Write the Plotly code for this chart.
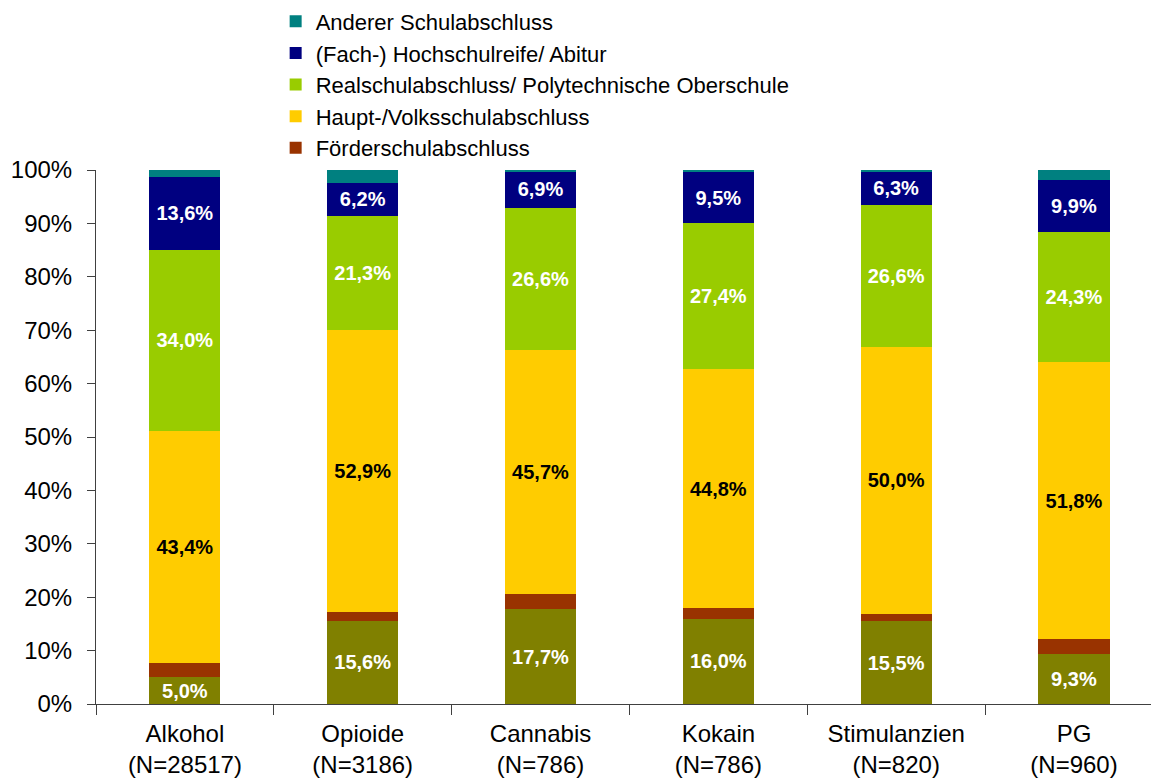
import plotly.graph_objects as go

kategorien = ['Alkohol<br>(N=28517)', 'Opioide<br>(N=3186)', 'Cannabis<br>(N=786)',
              'Kokain<br>(N=786)', 'Stimulanzien<br>(N=820)', 'PG<br>(N=960)']

ohne = [5.0, 15.6, 17.7, 16.0, 15.5, 9.3]
foerder = [2.7, 1.6, 2.9, 1.9, 1.4, 2.9]
haupt = [43.4, 52.9, 45.7, 44.8, 50.0, 51.8]
real = [34.0, 21.3, 26.6, 27.4, 26.6, 24.3]
abitur = [13.6, 6.2, 6.9, 9.5, 6.3, 9.9]
anderer = [1.3, 2.4, 0.3, 0.4, 0.2, 1.8]

serien = [
    ('Ohne Schulabschluss', ohne, '#808000', 'white', False),
    ('Förderschulabschluss', foerder, '#993300', None, True),
    ('Haupt-/Volksschulabschluss', haupt, '#FFCC00', 'black', True),
    ('Realschulabschluss/ Polytechnische Oberschule', real, '#99CC00', 'white', True),
    ('(Fach-) Hochschulreife/ Abitur', abitur, '#000080', 'white', True),
    ('Anderer Schulabschluss', anderer, '#008080', None, True),
]

fig = go.Figure()
for name, werte, farbe, textfarbe, legende in serien:
    bar = go.Bar(x=kategorien, y=werte, name=name, marker_color=farbe,
                 marker_line_width=0, showlegend=legende)
    if textfarbe:
        bar.texttemplate = '%{y:.1f}%'
        bar.textposition = 'inside'
        bar.insidetextanchor = 'middle'
        bar.textfont = dict(family='Liberation Sans', size=20, color=textfarbe, weight='bold')
    else:
        bar.textposition = 'none'
    fig.add_trace(bar)

# die Seite hat 8px Rand, daher 1151x772
fig.update_layout(
    barmode='stack', bargap=0.6, separators=',.',
    width=1151, height=772,
    margin=dict(l=88, r=0, t=162, b=76, autoexpand=False),
    plot_bgcolor='white', paper_bgcolor='white',
    font=dict(family='Liberation Sans', color='black'),
    uniformtext=dict(mode='show', minsize=20),
    legend=dict(x=0.169, y=1.16, xanchor='left', yanchor='middle',
                traceorder='reversed', font=dict(size=22), itemwidth=30),
    xaxis=dict(range=[-0.5, 5.478], showline=True, linecolor='#404040',
               ticks='outside', tickson='boundaries', ticklen=10, tickcolor='#404040',
               tickfont=dict(size=24), showgrid=False, automargin=False,
               ticklabelstandoff=8),
    yaxis=dict(range=[0, 100], dtick=10, ticksuffix='%', showline=True,
               linecolor='#404040', ticks='outside', ticklen=8, tickcolor='#404040',
               tickfont=dict(size=24), showgrid=False, zeroline=False,
               ticklabelstandoff=10, automargin=False),
)

fig.write_html('out.html')
